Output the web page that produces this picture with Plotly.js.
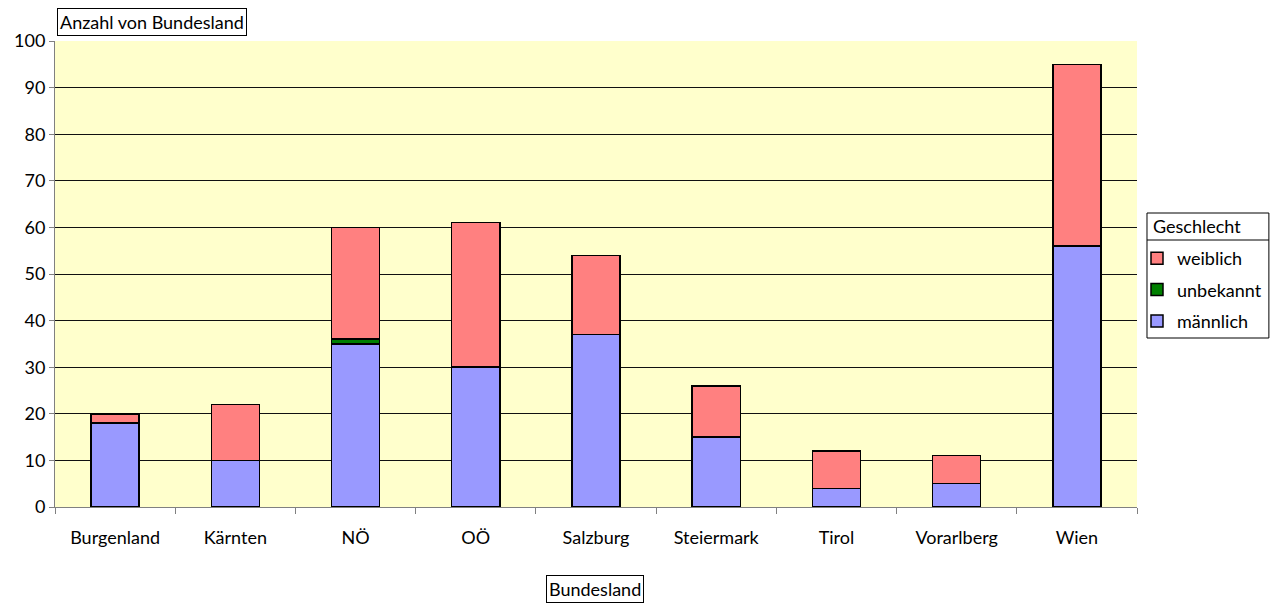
<!DOCTYPE html>
<html><head><meta charset="utf-8">
<script src="https://cdn.plot.ly/plotly-3.0.1.min.js"></script>
<style>body{margin:0;padding:0;background:#fff}#c{width:1278px;height:603px}</style>
</head><body><div id="c"></div>
<script>
const categories = ["Burgenland","Kärnten","NÖ","OÖ","Salzburg","Steiermark","Tirol","Vorarlberg","Wien"];
const maennlich = [18,10,35,30,37,15,4,5,56];
const unbekannt = [0,0,1,0,0,0,0,0,0];
const weiblich = [2,12,24,31,17,11,8,6,39];
const yTicks = [0,10,20,30,40,50,60,70,80,90,100];

const F = "Lato, 'Open Sans', sans-serif";
function tr(name, y, color, rank){
  return {type:'bar', name:name, x:categories, y:y, legendgroup:name, legendrank:rank,
    marker:{color:color, line:{color:'#000', width:1.5}}, hoverinfo:'y'};
}
const data = [
  tr('männlich', maennlich, '#9999FF', 3),
  tr('unbekannt', unbekannt, '#008000', 2),
  tr('weiblich', weiblich, '#FF8080', 1)
];
const PW = 1083, PH = 466;
const px = v => (v-55)/PW, py = v => (507-v)/PH;
const layout = {
  width:1278, height:603,
  margin:{l:55, r:140, t:41, b:96},
  paper_bgcolor:'#fff', plot_bgcolor:'#FFFFCC',
  barmode:'stack', bargap:0.6,
  font:{family:F, size:18, color:'#000'},
  xaxis:{type:'category', tickson:'boundaries', ticks:'outside', ticklen:6, tickcolor:'#808080',
    showline:true, linecolor:'#808080', linewidth:1, showgrid:false, tickfont:{size:18}, ticklabelstandoff:14},
  yaxis:{range:[0,100], tickvals:yTicks, ticks:'outside', ticklen:5, tickcolor:'#808080',
    showline:true, linecolor:'#808080', linewidth:1, showgrid:true, gridcolor:'#111', gridwidth:1,
    zeroline:false, tickfont:{size:18}},
  showlegend:true,
  legend:{x:px(1137), xanchor:'left', y:py(240), yanchor:'top', traceorder:'grouped', tracegroupgap:5,
    bgcolor:'rgba(0,0,0,0)', borderwidth:0, font:{size:18}},
  shapes:[
    {type:'rect', xref:'paper', yref:'paper', x0:px(1148), x1:px(1270), y0:py(338), y1:py(213),
      line:{color:'#000', width:1}, fillcolor:'#fff', layer:'below'},
    {type:'line', xref:'paper', yref:'paper', x0:px(1148), x1:px(1270), y0:py(240), y1:py(240),
      line:{color:'#000', width:1}}
  ],
  annotations:[
    {text:'Geschlecht', xref:'paper', yref:'paper', x:px(1152), y:py(226), xanchor:'left', yanchor:'middle',
      showarrow:false, font:{size:18}},
    {text:'Anzahl von Bundesland', xref:'paper', yref:'paper', x:px(57), y:py(22), xanchor:'left', yanchor:'middle',
      showarrow:false, bordercolor:'#000', borderwidth:1, borderpad:2, bgcolor:'#fff', font:{size:18}},
    {text:'Bundesland', xref:'paper', yref:'paper', x:px(595), y:py(589), xanchor:'center', yanchor:'middle',
      showarrow:false, bordercolor:'#000', borderwidth:1, borderpad:2, bgcolor:'#fff', font:{size:18}}
  ]
};
Plotly.newPlot('c', data, layout, {displayModeBar:false, staticPlot:true});
</script></body></html>
